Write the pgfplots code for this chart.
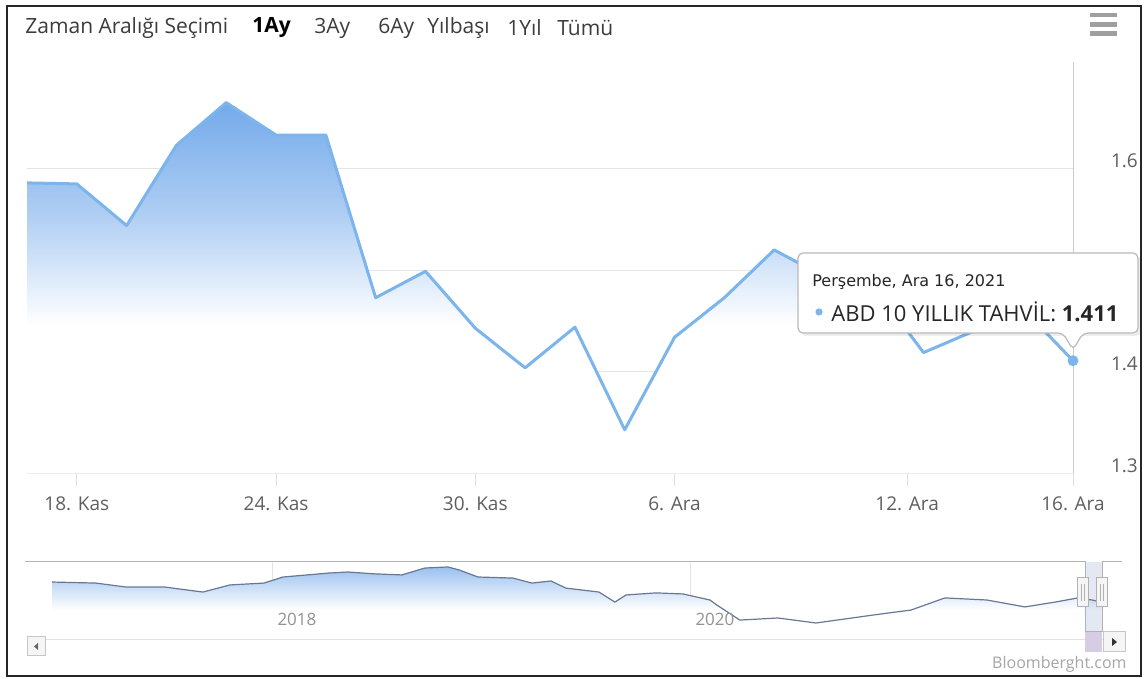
\documentclass[border=0pt]{standalone}
\usepackage{pgfplots}
\pgfplotsset{compat=1.18}
\usepackage{fontspec}
\setmainfont{Open Sans}
\newfontfamily\dejavu{DejaVu Sans}

\definecolor{lineblue}{RGB}{124,181,236}
\definecolor{fillblue}{RGB}{100,160,232}
\definecolor{navline}{RGB}{105,120,145}
\definecolor{gridgray}{RGB}{228,228,228}
\definecolor{labelgray}{RGB}{95,95,95}
\definecolor{titlegray}{RGB}{60,60,60}
\definecolor{maskblue}{RGB}{102,133,194}
\definecolor{thumb}{RGB}{214,204,228}
\colorlet{fillA}{fillblue!90}
\colorlet{fillB}{fillblue!52}
\colorlet{fillC}{fillblue!65}

% stops between 25bp and 75bp map onto the filled path's height
\pgfdeclareverticalshading{mainfade}{100bp}{color(0bp)=(white); color(45bp)=(white); color(60bp)=(fillB); color(75bp)=(fillA); color(100bp)=(fillA)}
\pgfdeclareverticalshading{navfade}{100bp}{color(0bp)=(white); color(42bp)=(white); color(75bp)=(fillC); color(100bp)=(fillC)}

\begin{document}
\begin{tikzpicture}
\path[use as bounding box, fill=white] (0,0) rectangle (573pt,339.5pt);

% main chart: trading days 17 Nov - 16 Dec 2021
\begin{axis}[
  at={(13.5pt,102.75pt)}, anchor=south west,
  scale only axis, width=523pt, height=205.75pt,
  xmin=0, xmax=21, ymin=1.3, ymax=1.705,
  clip=false,
  axis line style={draw=none},
  ytick={1.3,1.4,1.5,1.6}, yticklabels={1.3,1.4,1.5,1.6},
  yticklabel pos=right, ytick style={draw=none},
  yticklabel style={anchor=west, xshift=9pt, yshift=4pt, text=labelgray,
    font=\fontsize{9.5}{11}\selectfont},
  ymajorgrids, grid style={gridgray, line width=0.6pt},
  xtick={1,5,9,13,17.67,21},
  xticklabels={18. Kas,24. Kas,30. Kas,6. Ara,12. Ara,16. Ara},
  xtick pos=bottom, tick align=outside, major tick length=6.5pt,
  xtick style={draw=gray!25, line width=0.5pt},
  xticklabel style={text=labelgray, font=\fontsize{9.5}{11}\selectfont, yshift=-1.5pt},
]
\addplot[draw=none, shade, shading=mainfade] coordinates {
  (0,1.3) (0,1.586) (1,1.585) (2,1.544) (3,1.623) (4,1.665) (5,1.633) (6,1.633)
  (7,1.473) (8,1.499) (9,1.443) (10,1.404) (11,1.444) (12,1.343) (13,1.434)
  (14,1.473) (15,1.520) (16,1.494) (17,1.484) (18,1.419) (19,1.440) (20,1.462)
  (21,1.411) (21,1.3)} -- cycle;
\addplot[lineblue, line width=1.5pt, line join=round, no marks] coordinates {
  (0,1.586) (1,1.585) (2,1.544) (3,1.623) (4,1.665) (5,1.633) (6,1.633)
  (7,1.473) (8,1.499) (9,1.443) (10,1.404) (11,1.444) (12,1.343) (13,1.434)
  (14,1.473) (15,1.520) (16,1.494) (17,1.484) (18,1.419) (19,1.440) (20,1.462)
  (21,1.411)};
\draw[gray!40, line width=0.5pt] (axis cs:21,1.3) -- (axis cs:21,1.705);
\addplot[only marks, mark=*, mark size=2.5pt, mark options={fill=lineblue, draw=lineblue}]
  coordinates {(21,1.411)};
\end{axis}

% navigator: whole history of the series
\begin{axis}[
  at={(26pt,23.5pt)}, anchor=south west,
  scale only axis, width=524.5pt, height=34.5pt,
  xmin=2016.943, xmax=2021.962, ymin=0.12, ymax=3.42,
  axis lines=none, clip=false,
]
\draw[gray!22, line width=0.5pt] (axis cs:2018,0.12) -- (axis cs:2018,3.42);
\draw[gray!22, line width=0.5pt] (axis cs:2020,0.12) -- (axis cs:2020,3.42);
\addplot[draw=none, shade, shading=navfade] coordinates {
  (2016.943,0.12) (2016.943,2.51) (2017.153,2.46) (2017.297,2.27) (2017.483,2.27)
  (2017.665,2.03) (2017.794,2.37) (2017.957,2.46) (2018.048,2.75) (2018.268,2.94)
  (2018.359,2.99) (2018.488,2.90) (2018.617,2.85) (2018.727,3.18) (2018.837,3.23)
  (2018.890,3.09) (2018.981,2.75) (2019.148,2.70) (2019.239,2.46) (2019.330,2.56)
  (2019.402,2.22) (2019.560,2.03) (2019.636,1.55) (2019.689,1.89) (2019.833,1.99)
  (2019.962,1.94) (2020.091,1.65) (2020.124,1.41) (2020.234,0.69) (2020.416,0.79)
  (2020.598,0.55) (2020.871,0.93) (2021.053,1.17) (2021.215,1.75) (2021.416,1.65)
  (2021.598,1.32) (2021.742,1.55) (2021.852,1.75) (2021.919,1.65) (2021.962,1.55)
  (2021.962,0.12)} -- cycle;
\addplot[navline, line width=0.6pt, no marks] coordinates {
  (2016.943,2.51) (2017.153,2.46) (2017.297,2.27) (2017.483,2.27)
  (2017.665,2.03) (2017.794,2.37) (2017.957,2.46) (2018.048,2.75) (2018.268,2.94)
  (2018.359,2.99) (2018.488,2.90) (2018.617,2.85) (2018.727,3.18) (2018.837,3.23)
  (2018.890,3.09) (2018.981,2.75) (2019.148,2.70) (2019.239,2.46) (2019.330,2.56)
  (2019.402,2.22) (2019.560,2.03) (2019.636,1.55) (2019.689,1.89) (2019.833,1.99)
  (2019.962,1.94) (2020.091,1.65) (2020.124,1.41) (2020.234,0.69) (2020.416,0.79)
  (2020.598,0.55) (2020.871,0.93) (2021.053,1.17) (2021.215,1.75) (2021.416,1.65)
  (2021.598,1.32) (2021.742,1.55) (2021.852,1.75) (2021.919,1.65) (2021.962,1.55)};
\node[anchor=west, inner sep=0, text=gray!85, font=\fontsize{8.5}{10}\selectfont]
  at (axis cs:2018.02,0.74) {2018};
\node[anchor=west, inner sep=0, text=gray!85, font=\fontsize{8.5}{10}\selectfont]
  at (axis cs:2020.02,0.74) {2020};
\end{axis}

% page furniture in pixel units (origin top left)
\begin{scope}[x=0.5pt, y=-0.5pt, shift={(0pt,339.5pt)}]
  \draw[black!85, line width=1pt] (7,6) rectangle (1141,676);
  % range selector
  \node[anchor=west, inner sep=0, text=titlegray, font=\fontsize{10.5}{12}\selectfont] at (25,28) {Zaman Aralığı Seçimi};
  \node[anchor=west, inner sep=0, text=black, font=\bfseries\fontsize{10.5}{12}\selectfont] at (252,28) {1Ay};
  \node[anchor=west, inner sep=0, text=titlegray, font=\fontsize{10.5}{12}\selectfont] at (314,28) {3Ay};
  \node[anchor=west, inner sep=0, text=titlegray, font=\fontsize{10.5}{12}\selectfont] at (378,28) {6Ay};
  \node[anchor=west, inner sep=0, text=titlegray, font=\fontsize{10.5}{12}\selectfont] at (427,28) {Yılbaşı};
  \node[anchor=west, inner sep=0, text=titlegray, font=\fontsize{10.5}{12}\selectfont] at (507,28) {1Yıl};
  \node[anchor=west, inner sep=0, text=titlegray, font=\fontsize{10.5}{12}\selectfont] at (557,28) {Tümü};
  % menu icon
  \fill[gray!75] (1090,13) rectangle (1117,17.5);
  \fill[gray!75] (1090,22.5) rectangle (1117,27);
  \fill[gray!75] (1090,31.5) rectangle (1117,36);
  % tooltip
  \fill[black, opacity=0.07, rounded corners=2.5] (801,256) -- (1141,256) -- (1141,336) -- (801,336) -- cycle;
  \draw[gray!55, line width=0.6pt, fill=white, rounded corners=2.5]
    (798,253) -- (1138,253) -- (1138,333) -- (1083,333) -- (1073,350) -- (1063,333) -- (798,333) -- cycle;
  \node[anchor=west, inner sep=0, text=black!85, font=\dejavu\fontsize{8}{9}\selectfont] at (812,282) {Perşembe, Ara 16, 2021};
  \fill[lineblue] (819,312) circle (1.8pt);
  \node[anchor=west, inner sep=0, text=black!85, font=\fontsize{11}{13}\selectfont] at (831,312) {ABD 10 YILLIK TAHVİL: \textbf{1.411}};
  % navigator outline, mask and handles
  \fill[maskblue, opacity=0.18] (1085,562) rectangle (1102,632);
  \draw[gray!60, line width=0.5pt] (25,562) -- (1085,562) -- (1085,632) -- (1102,632) -- (1102,562) -- (1122,562);
  \foreach \hx in {1077,1096}{
    \draw[gray!60, fill=gray!8, line width=0.5pt] (\hx,578) rectangle ++(11,29);
    \draw[gray!60, line width=0.5pt] (\hx+4,584) -- (\hx+4,601) (\hx+7,584) -- (\hx+7,601);
  }
  % scrollbar
  \draw[gray!25, line width=0.5pt] (45,640) -- (1103,640);
  \draw[gray!45, fill=gray!8, line width=0.5pt] (27,637) rectangle (45,656);
  \fill[gray!80!black] (34,646.5) -- (38,643) -- (38,650) -- cycle;
  \fill[thumb] (1085,632) rectangle (1102,652);
  \draw[gray!45, fill=gray!8, line width=0.5pt] (1103,632) rectangle (1125,652);
  \fill[black!80] (1117,642) -- (1112,638) -- (1112,646) -- cycle;
  \node[anchor=east, inner sep=0, text=gray!70, font=\fontsize{8}{9}\selectfont] at (1127,664) {Bloomberght.com};
\end{scope}
\end{tikzpicture}
\end{document}
